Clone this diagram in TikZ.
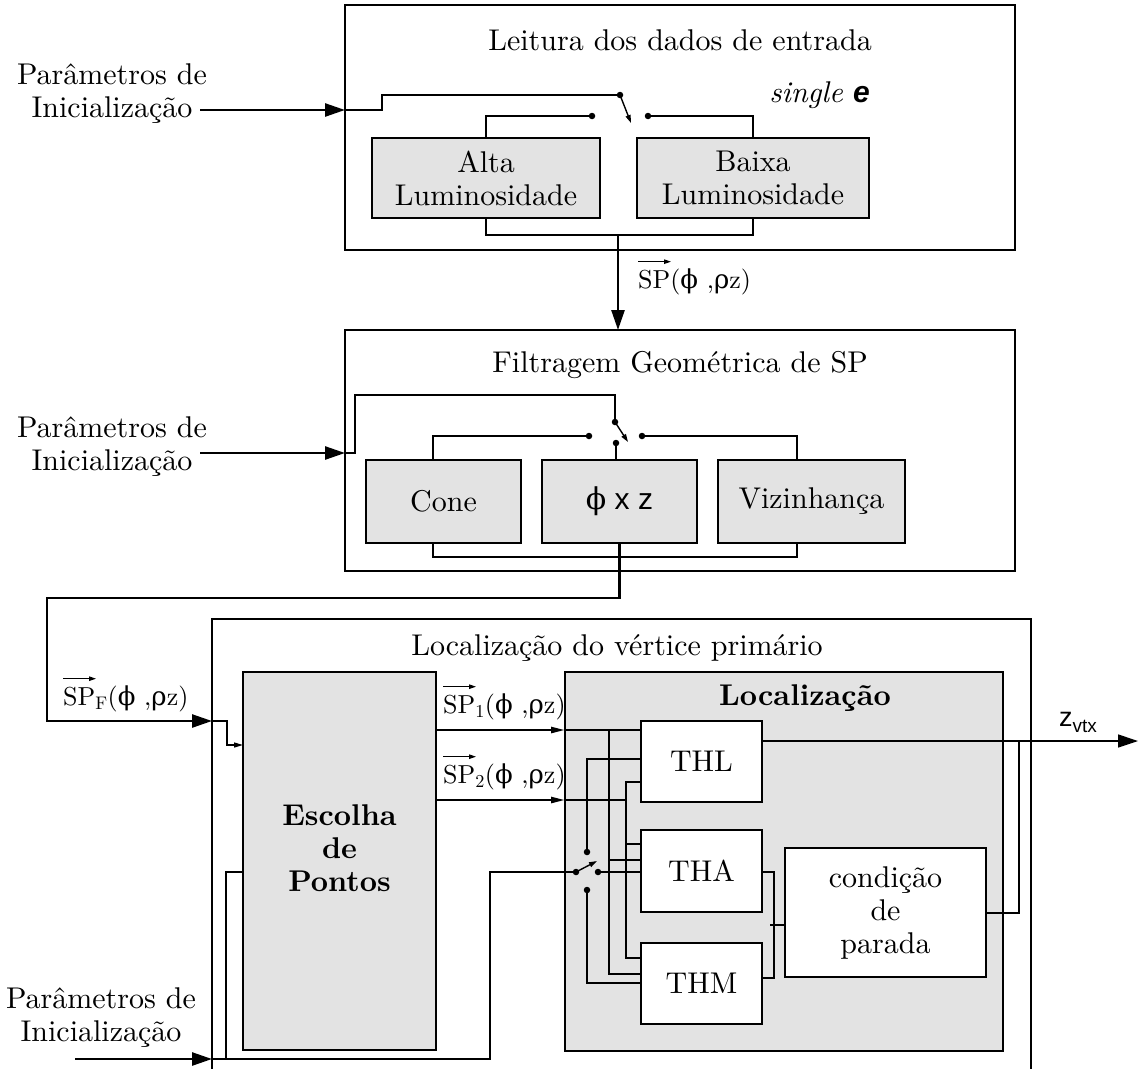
\RequirePackage{fix-cm}
\documentclass[tikz,border=0pt]{standalone}
\usepackage{fontspec}
\usepackage{amsmath}
\setmainfont{lmroman10-regular.otf}[BoldFont=lmroman10-bold.otf,ItalicFont=lmroman10-italic.otf,BoldItalicFont=lmroman10-bolditalic.otf]
\newfontfamily\sansf{Liberation Sans}
\newfontfamily\grk{DejaVu Serif}
\usetikzlibrary{arrows.meta}
\definecolor{boxgray}{RGB}{227,227,227}
\newcommand\mainfs{\fontsize{30}{33}\selectfont}
\newcommand\lblfs{\fontsize{26}{29}\selectfont}
\newcommand\spargs{({\grk ϕ} ,{\grk ρ}z)}
\begin{document}
\begin{tikzpicture}[x=1pt,y=-1pt,font=\mainfs,line join=miter,
 outerbox/.style={draw,line width=2.6pt,outer sep=0pt,inner sep=0pt},
 graybox/.style={draw,fill=boxgray,line width=1.4pt,outer sep=0pt,inner sep=0pt,align=center},
 whitebox/.style={draw,fill=white,line width=1.4pt,outer sep=0pt,inner sep=0pt,align=center},
 wire/.style={line width=1.4pt},
 bus/.style={line width=2.8pt},
 bigarrow/.style={line width=2.6pt,-{Triangle[length=20pt,width=13pt]}},
 thinbig/.style={line width=1.4pt,-{Triangle[length=20pt,width=13pt]}},
 medarrow/.style={line width=2.4pt,-{Triangle[length=14pt,width=6pt]}},
 smallarrow/.style={line width=1.4pt,-{Triangle[length=9pt,width=5pt]}},
 swarm/.style={line width=1.4pt,-{Triangle[length=8pt,width=5pt]}},
 vecarr/.style={line width=1.1pt,-{Triangle[length=7pt,width=4.5pt]}},
 dot/.style={circle,fill,inner sep=0pt,minimum size=6.5pt},
 lbl/.style={font=\lblfs,inner sep=0pt}]
\useasboundingbox (0,0) rectangle (1139,1068);

% ---------- top stage ----------
\node[outerbox,minimum width=670pt,minimum height=245pt] (top) at (680,127.5) {};
\node (toptitle) at (680,40) {Leitura dos dados de entrada};
\node[anchor=base east,inner sep=0pt] (single) at (870,102) {\textit{single} {\sansf\bfseries\itshape e}};
\node[graybox,minimum width=228pt,minimum height=80pt] (alta) at (486,178) {Alta\\Luminosidade};
\node[graybox,minimum width=232pt,minimum height=80pt] (baixa) at (753,178) {Baixa\\Luminosidade};
\node[dot] (s1p) at (620,95) {};
\node[dot] (s1a) at (592,116) {};
\node[dot] (s1b) at (648,116) {};
\coordinate (s1e) at (631,123);
\draw[swarm] (s1p.center) -- (s1e);
\draw[wire] (s1a.center) -| (alta.north);
\draw[wire] (s1b.center) -| (baixa.north);
\node[align=center] (in1) at (112,94) {Parâmetros de\\Inicialização};
\coordinate (a1) at (200,110);
\draw[bigarrow] (a1) -- (a1 -| top.west);
\coordinate (k1) at (382,110);
\draw[wire] (a1 -| top.west) -- (k1) |- (s1p.center);
\coordinate (br1) at (486,235);
\coordinate (br2) at (753,235);
\draw[bus] (alta.south) -- (br1) -- (br2) -- (baixa.south);
\coordinate (o1) at (618,235);

% ---------- middle stage ----------
\node[outerbox,minimum width=670pt,minimum height=241pt] (mid) at (680,450.5) {};
\draw[bigarrow] (o1) -- (o1 |- mid.north);
\node[lbl,anchor=west] (splbl) at (638,282) {SP\spargs};
\draw[vecarr] ([yshift=7pt]splbl.north west) -- ++(33,0);
\node (midtitle) at (680,365) {Filtragem Geométrica de SP};
\node[graybox,minimum width=155pt,minimum height=83pt] (cone) at (443.5,501.5) {Cone};
\node[graybox,minimum width=155pt,minimum height=83pt] (phixz) at (619.5,501.5) {{\grk ϕ}{\sansf\ x z}};
\node[graybox,minimum width=187pt,minimum height=83pt] (viz) at (811.5,501.5) {Vizinhança};
\node[dot] (s2p) at (615,422) {};
\node[dot] (s2a) at (589,436) {};
\node[dot] (s2b) at (642,436) {};
\node[dot] (s2c) at (616,443) {};
\coordinate (s2e) at (628,442);
\draw[swarm] (s2p.center) -- (s2e);
\coordinate (cw) at (433,460);
\coordinate (vw) at (797,460);
\draw[wire] (s2a.center) -| (cw);
\draw[wire] (s2b.center) -| (vw);
\draw[wire] (s2c.center) -- (s2c |- phixz.north);
\node[align=center] (in2) at (112,447) {Parâmetros de\\Inicialização};
\coordinate (a2) at (200,453);
\draw[bigarrow] (a2) -- (a2 -| mid.west);
\coordinate (k2) at (355,453);
\coordinate (k2t) at (355,395);
\draw[wire] (a2 -| mid.west) -- (k2) -- (k2t) -| (s2p.center);
\coordinate (cbl) at (433,557);
\coordinate (cbr) at (797,557);
\draw[bus] (cbl |- cone.south) -- (cbl) -- (cbr) -- (cbr |- viz.south);

% ---------- bottom stage ----------
\coordinate (btl) at (212,619);
\coordinate (btr) at (1031,619);
\coordinate (bbl) at (212,1075);
\coordinate (bbr) at (1031,1075);
\draw[outerbox] (bbl) -- (btl) -- (btr) -- (bbr);
\coordinate (f1) at (619.5,598);
\coordinate (f2) at (47,598);
\coordinate (f3) at (47,721);
\draw[bigarrow] (phixz.south) -- (f1) -- (f2) -- (f3) -- (f3 -| btl);
\node[lbl,anchor=west] (spflbl) at (63,699) {SP$_{\text{F}}$\spargs};
\draw[vecarr] ([yshift=7pt]spflbl.north west) -- ++(33,0);
\node (bottitle) at (617,648) {Localização do vértice primário};
\node[graybox,minimum width=193pt,minimum height=378pt] (esc) at (339.5,861) {};
\node[align=center,font=\mainfs\bfseries] (esct) at (339.5,848) {Escolha\\de\\Pontos};
\node[graybox,minimum width=438pt,minimum height=379pt] (loc) at (784,861.5) {};
\node[font=\mainfs\bfseries] (loct) at (805,698) {Localização};
\node[whitebox,minimum width=121pt,minimum height=81pt] (thl) at (701.5,761.5) {THL};
\node[whitebox,minimum width=121pt,minimum height=82pt] (tha) at (701.5,871) {THA};
\node[whitebox,minimum width=121pt,minimum height=81pt] (thm) at (701.5,983.5) {THM};
\node[whitebox,minimum width=201pt,minimum height=129pt] (cond) at (885.5,912.5) {condição\\de\\parada};

% SP_F into Escolha
\coordinate (e1) at (227,721);
\coordinate (e2) at (227,745);
\draw[smallarrow] (f3 -| btl) -- (e1) -- (e2) -- (e2 -| esc.west);

% third init input
\node[align=center] (in3) at (101,1018) {Parâmetros de\\Inicialização};
\coordinate (a3) at (75,1059);
\draw[bigarrow] (a3) -- (a3 -| btl);
\node[dot] (s3p) at (576,872) {};
\node[dot] (s3b) at (598,872) {};
\node[dot] (s3t) at (587,852) {};
\node[dot] (s3d) at (587,890) {};
\coordinate (g0) at (226,1059);
\coordinate (g1) at (490,1059);
\coordinate (g2) at (490,872);
\coordinate (g3) at (226,872);
\draw[wire] (a3 -| btl) -- (g1) -- (g2) -- (s3p.center);
\draw[wire] (g0) -- (g3) -- (g3 -| esc.west);

% SP1 / SP2
\coordinate (p1) at (565,730);
\coordinate (p2) at (565,800);
\draw[medarrow] (p1 -| esc.east) -- (p1);
\draw[medarrow] (p2 -| esc.east) -- (p2);
\node[lbl,anchor=west] (sp1lbl) at (443,707) {SP$_{\text{1}}$\spargs};
\draw[vecarr] ([yshift=7pt]sp1lbl.north west) -- ++(33,0);
\node[lbl,anchor=west] (sp2lbl) at (443,777) {SP$_{\text{2}}$\spargs};
\draw[vecarr] ([yshift=7pt]sp2lbl.north west) -- ++(33,0);

% buses
\coordinate (b1) at (609,730);
\coordinate (b1m) at (609,860);
\coordinate (b1d) at (609,974);
\draw[bus] (p1) -- (p1 -| thl.west);
\draw[bus] (b1) -- (b1d) -- (b1d -| thm.west);
\draw[bus] (b1m) -- (b1m -| tha.west);
\coordinate (b2) at (626,800);
\coordinate (b2u) at (626,782);
\coordinate (b2m) at (626,844);
\coordinate (b2d) at (626,958);
\draw[bus] (p2) -- (b2);
\draw[bus] (b2u -| thl.west) -- (b2u) -- (b2d) -- (b2d -| thm.west);
\draw[bus] (b2m) -- (b2m -| tha.west);

% switch in Localização
\coordinate (s3e) at (597,861);
\draw[swarm] (s3p.center) -- (s3e);
\draw[wire] (s3b.center) -- (s3b -| tha.west);
\coordinate (t1) at (587,759);
\draw[wire] (s3t.center) -- (t1) -- (t1 -| thl.west);
\coordinate (t2) at (587,983);
\draw[wire] (s3d.center) -- (t2) -- (t2 -| thm.west);

% outputs
\coordinate (zq) at (1138,741);
\draw[thinbig] (thl.east |- zq) -- (zq);
\node (zlbl) at (1078,722) {\sansf\fontsize{27}{30}\selectfont z\raisebox{-6pt}{\fontsize{19}{20}\selectfont vtx}};
\coordinate (c1) at (1019,913);
\coordinate (c2) at (1019,741);
\draw[wire] (cond.east |- c1) -- (c1) -- (c2);
\coordinate (q1) at (774,872);
\coordinate (q2) at (774,978);
\draw[wire] (tha.east |- q1) -- (q1) -- (q2) -- (q2 -| thm.east);
\coordinate (q3) at (770,925);
\draw[wire] (q3) -- (q3 -| cond.west);
\end{tikzpicture}
\end{document}
